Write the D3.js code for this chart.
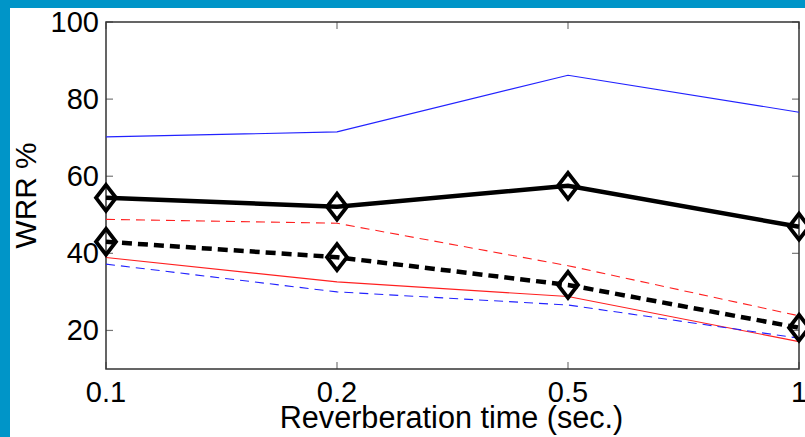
<!DOCTYPE html>
<html lang="en">
<head>
<meta charset="UTF-8">
<title>WRR vs reverberation time</title>
<script src="https://d3js.org/d3.v7.min.js"></script>
<style>
    body { margin: 0; background: #0095c8; }
    svg { display: block; }
    text { font-family: "Liberation Sans", Arial, sans-serif; fill: #000; }
</style>
</head>
<body>
<svg width="805" height="437"></svg>
<script>
    // reverberation times (equally spaced categories)
    const times = ["0.1", "0.2", "0.5", "1"];
    const yTicks = [20, 40, 60, 80, 100];

    // WRR % per series
    const blueSolid   = [70.2, 71.5, 86.2, 76.6];
    const blackSolid  = [54.4, 52.1, 57.5, 46.9];
    const redDashed   = [48.8, 47.8, 36.8, 23.8];
    const blackDashed = [43.0, 39.0, 31.8, 20.7];
    const redSolid    = [38.9, 32.6, 28.8, 17.1];
    const blueDashed  = [37.2, 30.0, 26.6, 18.0];

    const svg = d3.select("svg");

    // white page area inside the blue border
    svg.append("rect").attr("x", 10).attr("y", 8).attr("width", 795).attr("height", 429).attr("fill", "#fff");

    const pL = 106, pR = 799, pT = 22, pB = 369;
    const x = d3.scalePoint().domain(times).range([pL, pR]);
    const y = d3.scaleLinear().domain([10, 100]).range([pB, pT]);

    // ticks (inside, mirrored on both sides)
    const tickLen = 7;
    const g = svg.append("g");
    yTicks.forEach(t => {
        g.append("line").attr("x1", pL).attr("x2", pL + tickLen).attr("y1", y(t)).attr("y2", y(t))
            .attr("stroke", "#777").attr("stroke-width", 1.2);
        g.append("line").attr("x1", pR).attr("x2", pR - tickLen).attr("y1", y(t)).attr("y2", y(t))
            .attr("stroke", "#777").attr("stroke-width", 1.2);
        g.append("text").attr("x", pL - 7).attr("y", y(t) + 10)
            .attr("text-anchor", "end").attr("font-size", 29).text(t);
    });
    times.forEach(t => {
        g.append("line").attr("x1", x(t)).attr("x2", x(t)).attr("y1", pB).attr("y2", pB - tickLen)
            .attr("stroke", "#777").attr("stroke-width", 1.2);
        g.append("line").attr("x1", x(t)).attr("x2", x(t)).attr("y1", pT).attr("y2", pT + tickLen)
            .attr("stroke", "#777").attr("stroke-width", 1.2);
        g.append("text").attr("x", x(t)).attr("y", 402)
            .attr("text-anchor", "middle").attr("font-size", 29).text(t);
    });

    // frame
    svg.append("rect").attr("x", pL).attr("y", pT).attr("width", pR - pL).attr("height", pB - pT)
        .attr("fill", "none").attr("stroke", "#333").attr("stroke-width", 1.5);

    const line = d3.line().x((d, i) => x(times[i])).y(d => y(d));

    const series = [
        { v: blueSolid,   color: "#2222ff", w: 1.1, dash: null },
        { v: redDashed,   color: "#ff2020", w: 1.1, dash: "9,6" },
        { v: redSolid,    color: "#ff2020", w: 1.1, dash: null },
        { v: blueDashed,  color: "#2222ff", w: 1.1, dash: "9,6" },
        { v: blackSolid,  color: "#000", w: 4.5, dash: null, marker: true },
        { v: blackDashed, color: "#000", w: 4.5, dash: "10,6", marker: true }
    ];

    series.forEach(s => {
        svg.append("path").datum(s.v)
            .attr("d", line)
            .attr("fill", "none")
            .attr("stroke", s.color)
            .attr("stroke-width", s.w)
            .attr("stroke-dasharray", s.dash);
        if (s.marker) {
            svg.selectAll(null).data(s.v).enter().append("path")
                .attr("transform", (d, i) => `translate(${x(times[i])},${y(d)})`)
                .attr("d", "M0,-13 L10,0 L0,13 L-10,0 Z")
                .attr("fill", "none")
                .attr("stroke", "#000")
                .attr("stroke-width", 3.8)
                .attr("stroke-linejoin", "miter");
        }
    });

    // axis titles
    svg.append("text").attr("x", (pL + pR) / 2 - 1).attr("y", 428)
        .attr("text-anchor", "middle").attr("font-size", 30.6).text("Reverberation time (sec.)");
    svg.append("text").attr("transform", `translate(36,${(pT + pB) / 2}) rotate(-90)`)
        .attr("text-anchor", "middle").attr("font-size", 29.8).text("WRR %");
</script>
</body>
</html>
